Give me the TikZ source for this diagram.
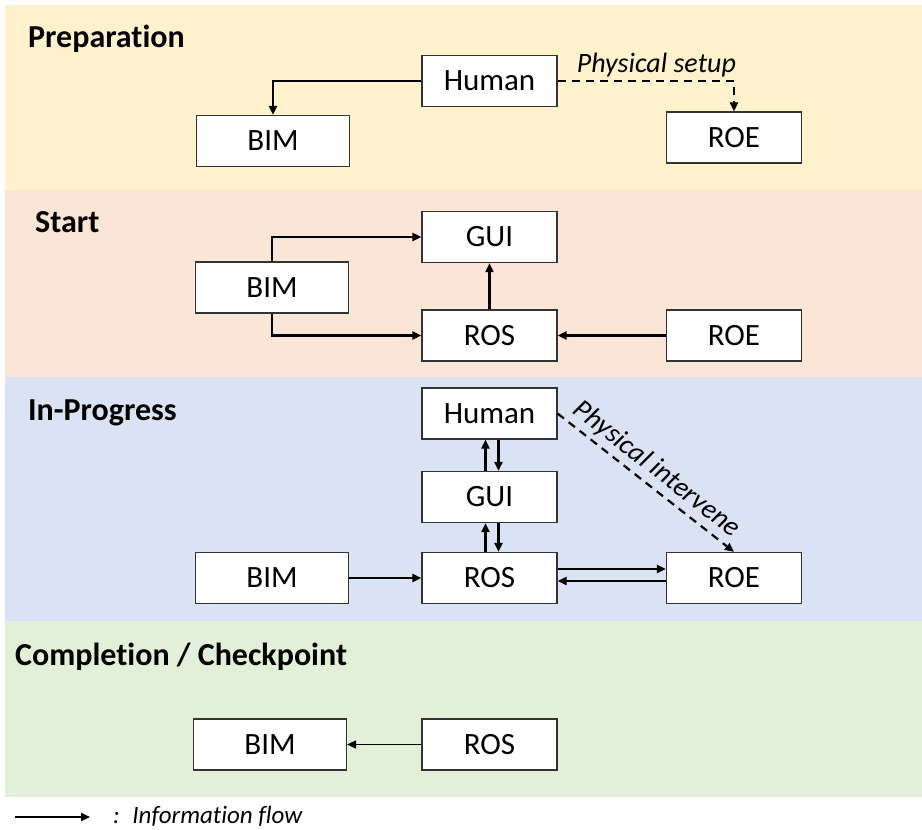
\documentclass[tikz,border=0pt]{standalone}
\usepackage{fontspec}
\setmainfont{Carlito}[Ligatures=NoCommon]
\usetikzlibrary{arrows.meta}

\definecolor{prepcol}{HTML}{FFF2CC}
\definecolor{startcol}{HTML}{FBE5D6}
\definecolor{progcol}{HTML}{DAE3F3}
\definecolor{donecol}{HTML}{E2F0D9}

\begin{document}
\begin{tikzpicture}[x=1pt,y=-1pt,
    box/.style={draw=black!80,fill=white,line width=1.2pt,minimum width=135pt,minimum height=51pt,inner sep=0pt,font=\fontsize{31}{36}\selectfont},
    wbox/.style={box,minimum width=153pt},
    flow/.style={line width=2.2pt,-{Triangle[length=9pt,width=8pt]}},
    phys/.style={flow,dash pattern=on 8pt off 6pt},
    title/.style={anchor=base west,inner sep=0pt,font=\fontsize{32}{38}\selectfont\bfseries},
    note/.style={font=\fontsize{28}{33}\selectfont\itshape}]
        \useasboundingbox (0,0) rectangle (922,830);
        \fill[white] (0,0) rectangle (922,830);

        % phases
        \fill[prepcol] (5,5) rectangle (922,190);
        \fill[startcol] (5,190) rectangle (922,377);
        \fill[progcol] (5,377) rectangle (922,621);
        \fill[donecol] (5,621) rectangle (922,797);
        \node[title] (preptitle) at (28,47){Preparation};
        \node[title] (starttitle) at (35,232){Start};
        \node[title] (progtitle) at (28,420){In-Progress};
        \node[title] (donetitle) at (15,665){Completion / Checkpoint};

        % preparation
        \node[box] (human0) at (489.5,81){Human};
        \node[wbox] (bim0) at (273,141){BIM};
        \node[box] (roe0) at (734,137.5){ROE};
        \draw[flow] (human0.west) -| (bim0.north);
        \draw[phys] (human0.east) -| (roe0.north) node[pos=0.28,above=0pt,note]{Physical setup};

        % start
        \node[box] (gui1) at (489.5,237){GUI};
        \node[wbox] (bim1) at (272,287.5){BIM};
        \node[box] (ros1) at (489.5,335.5){ROS};
        \node[box] (roe1) at (734,335.5){ROE};
        \draw[flow] (bim1.north) |- (gui1.west);
        \draw[flow] (bim1.south) |- (ros1.west);
        \draw[flow] (ros1) -- (gui1);
        \draw[flow] (roe1) -- (ros1);

        % in-progress
        \node[box] (human2) at (489.5,413.5){Human};
        \node[box] (gui2) at (489.5,497){GUI};
        \node[wbox] (bim2) at (272,578){BIM};
        \node[box] (ros2) at (489.5,578){ROS};
        \node[box] (roe2) at (734,578){ROE};
        \draw[flow] ([xshift=-4pt]gui2.north) -- ([xshift=-4pt]human2.south);
        \draw[flow] ([xshift=9pt]human2.south) -- ([xshift=9pt]gui2.north);
        \draw[flow] ([xshift=-4pt]ros2.north) -- ([xshift=-4pt]gui2.south);
        \draw[flow] ([xshift=9pt]gui2.south) -- ([xshift=9pt]ros2.north);
        \draw[flow] (bim2) -- (ros2);
        \draw[flow] ([yshift=9pt]ros2.east) -- ([yshift=9pt]roe2.west);
        \draw[flow] ([yshift=-3pt]roe2.west) -- ([yshift=-3pt]ros2.east);
        \draw[phys] (human2.east) -- (roe2.north) node[midway,above=1pt,sloped,note]{Physical intervene};

        % completion
        \node[wbox] (bim3) at (270,744.5){BIM};
        \node[box] (ros3) at (489.5,744.5){ROS};
        \draw[flow,line width=1.6pt] (ros3) -- (bim3);

        % key
        \coordinate (keystart) at (15,817);
        \coordinate (keyend) at (90,817);
        \draw[flow,line width=2pt] (keystart) -- (keyend);
        \node[anchor=base west,inner sep=0pt,font=\fontsize{25}{30}\selectfont\itshape] (keytext) at (113,823){:\enspace Information flow};
    \end{tikzpicture}
\end{document}
